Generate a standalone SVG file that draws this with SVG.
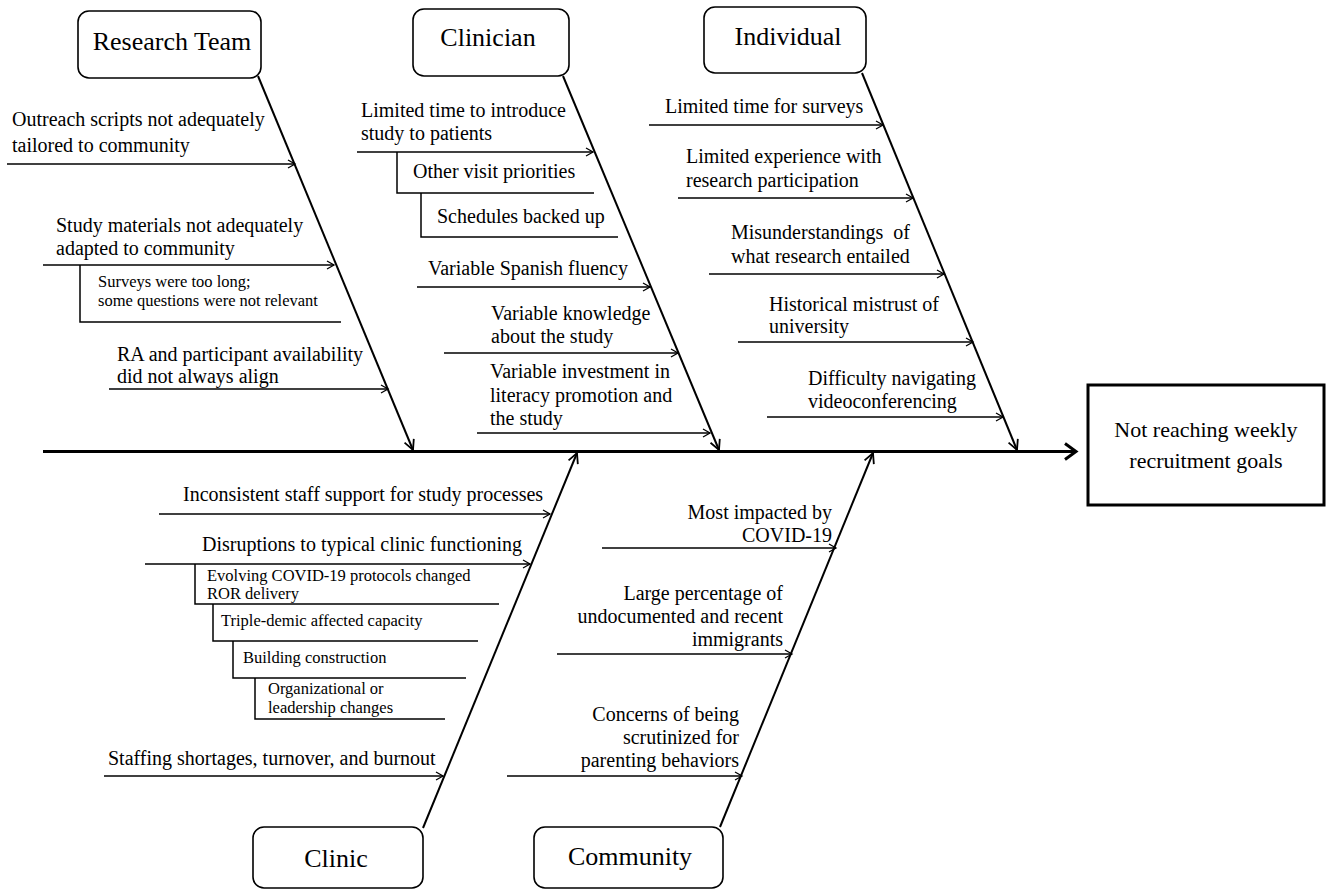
<svg xmlns="http://www.w3.org/2000/svg" width="1326" height="891" viewBox="0 0 1326 891">
<style>
  text { font-family: 'Liberation Serif', 'Times New Roman', Times, serif; fill: #000; }
  .lbl { font-size: 20px; }
  .sm { font-size: 16.5px; }
  .cat { font-size: 26px; text-anchor: middle; }
  .eff { font-size: 22px; text-anchor: middle; }
  .box { fill: #fff; stroke: #000; stroke-width: 1.6; }
  .sub { stroke: #000; stroke-width: 1.5; fill: none; marker-end: url(#sa); }
  .brk { stroke: #000; stroke-width: 1.5; fill: none; }
  .bone { stroke: #000; stroke-width: 2; fill: none; marker-end: url(#ba); }
  .end { text-anchor: end; }
</style>
<defs>
  <marker id="sa" markerUnits="userSpaceOnUse" markerWidth="12" markerHeight="12" refX="8" refY="5" orient="auto" overflow="visible">
    <path d="M1,1 L8,5 L1,9" fill="none" stroke="#000" stroke-width="1.3"/>
  </marker>
  <marker id="ba" markerUnits="userSpaceOnUse" markerWidth="16" markerHeight="16" refX="11" refY="6" orient="auto" overflow="visible">
    <path d="M1,1 L11,6 L1,11" fill="none" stroke="#000" stroke-width="1.8"/>
  </marker>
  <marker id="ma" markerUnits="userSpaceOnUse" markerWidth="20" markerHeight="20" refX="12" refY="9" orient="auto" overflow="visible">
    <path d="M1,1 L12,9 L1,17" fill="none" stroke="#000" stroke-width="3"/>
  </marker>
</defs>

<g id="connectors">
  <line x1="43" y1="451.5" x2="1076" y2="451.5" stroke="#000" stroke-width="3" marker-end="url(#ma)"/>
  <line class="bone" x1="258" y1="76" x2="413" y2="450"/>
  <line class="bone" x1="563" y1="76" x2="719" y2="450"/>
  <line class="bone" x1="862" y1="73" x2="1017" y2="450"/>
  <line class="bone" x1="423" y1="828" x2="577" y2="453"/>
  <line class="bone" x1="720" y1="827" x2="873" y2="453"/>

  <line class="sub" x1="7" y1="164" x2="295" y2="164"/>
  <line class="sub" x1="43" y1="265" x2="334" y2="265"/>
  <polyline class="brk" points="80,265 80,322 341,322"/>
  <line class="sub" x1="109" y1="389" x2="388" y2="389"/>

  <line class="sub" x1="357" y1="152" x2="593" y2="152"/>
  <polyline class="brk" points="397,152 397,193 594,193"/>
  <polyline class="brk" points="421,193 421,237 618,237"/>
  <line class="sub" x1="417" y1="287" x2="650" y2="287"/>
  <line class="sub" x1="444" y1="353" x2="678" y2="353"/>
  <line class="sub" x1="477" y1="433" x2="710" y2="433"/>

  <line class="sub" x1="649" y1="125" x2="883" y2="125"/>
  <line class="sub" x1="678" y1="198" x2="913" y2="198"/>
  <line class="sub" x1="709" y1="274" x2="944" y2="274"/>
  <line class="sub" x1="738" y1="342" x2="973" y2="342"/>
  <line class="sub" x1="767" y1="417" x2="1003" y2="417"/>

  <line class="sub" x1="159" y1="514" x2="550" y2="514"/>
  <line class="sub" x1="145" y1="564" x2="530" y2="564"/>
  <polyline class="brk" points="195,564 195,604 499,604"/>
  <polyline class="brk" points="213,604 213,641 478,641"/>
  <polyline class="brk" points="233,641 233,678 466,678"/>
  <polyline class="brk" points="255,678 255,719 445,719"/>
  <line class="sub" x1="104" y1="776" x2="443" y2="776"/>

  <line class="sub" x1="602" y1="548" x2="836" y2="548"/>
  <line class="sub" x1="557" y1="654" x2="792" y2="654"/>
  <line class="sub" x1="507" y1="776" x2="742" y2="776"/>
</g>

<g font-family="'Liberation Serif', serif">
<g id="node-research-team">
  <rect class="box" x="78" y="11" width="183" height="67" rx="11"/>
  <text class="cat" x="172" y="50">Research Team</text>
</g>
<g id="node-clinician">
  <rect class="box" x="413" y="9" width="156" height="67" rx="11"/>
  <text class="cat" x="488" y="46">Clinician</text>
</g>
<g id="node-individual">
  <rect class="box" x="704" y="7" width="162" height="66" rx="11"/>
  <text class="cat" x="788" y="45">Individual</text>
</g>
<g id="node-clinic">
  <rect class="box" x="253" y="827" width="170" height="61" rx="11"/>
  <text class="cat" x="336" y="867">Clinic</text>
</g>
<g id="node-community">
  <rect class="box" x="534" y="827" width="189" height="61" rx="11"/>
  <text class="cat" x="630" y="865">Community</text>
</g>
<g id="node-effect">
  <rect x="1088" y="385" width="236" height="120" fill="#fff" stroke="#000" stroke-width="3"/>
  <text class="eff" x="1206" y="437">Not reaching weekly</text>
  <text class="eff" x="1206" y="468">recruitment goals</text>
</g>

<g id="labels-research-team">
  <text class="lbl" x="12" y="126">Outreach scripts not adequately</text>
  <text class="lbl" x="12" y="152">tailored to community</text>
  <text class="lbl" x="56" y="232">Study materials not adequately</text>
  <text class="lbl" x="56" y="255">adapted to community</text>
  <text class="sm" x="98" y="287">Surveys were too long;</text>
  <text class="sm" x="98" y="306">some questions were not relevant</text>
  <text class="lbl" x="117" y="361">RA and participant availability</text>
  <text class="lbl" x="117" y="383">did not always align</text>
</g>

<g id="labels-clinician">
  <text class="lbl" x="361" y="117">Limited time to introduce</text>
  <text class="lbl" x="361" y="140">study to patients</text>
  <text class="lbl" x="413" y="178">Other visit priorities</text>
  <text class="lbl" x="437" y="223">Schedules backed up</text>
  <text class="lbl" x="428" y="275">Variable Spanish fluency</text>
  <text class="lbl" x="491" y="320">Variable knowledge</text>
  <text class="lbl" x="491" y="343">about the study</text>
  <text class="lbl" x="490" y="378">Variable investment in</text>
  <text class="lbl" x="490" y="402">literacy promotion and</text>
  <text class="lbl" x="490" y="425">the study</text>
</g>

<g id="labels-individual">
  <text class="lbl" x="665" y="113">Limited time for surveys</text>
  <text class="lbl" x="686" y="163">Limited experience with</text>
  <text class="lbl" x="686" y="187">research participation</text>
  <text class="lbl" x="731" y="239" xml:space="preserve">Misunderstandings  of</text>
  <text class="lbl" x="731" y="263">what research entailed</text>
  <text class="lbl" x="769" y="311">Historical mistrust of</text>
  <text class="lbl" x="769" y="333">university</text>
  <text class="lbl" x="808" y="385">Difficulty navigating</text>
  <text class="lbl" x="808" y="408">videoconferencing</text>
</g>

<g id="labels-clinic">
  <text class="lbl" x="183" y="501">Inconsistent staff support for study processes</text>
  <text class="lbl" x="202" y="551">Disruptions to typical clinic functioning</text>
  <text class="sm" x="207" y="581">Evolving COVID-19 protocols changed</text>
  <text class="sm" x="207" y="599">ROR delivery</text>
  <text class="sm" x="221" y="626">Triple-demic affected capacity</text>
  <text class="sm" x="243" y="663">Building construction</text>
  <text class="sm" x="268" y="694">Organizational or</text>
  <text class="sm" x="268" y="713">leadership changes</text>
  <text class="lbl" x="108" y="765">Staffing shortages, turnover, and burnout</text>
</g>

<g id="labels-community">
  <text class="lbl end" x="832" y="519">Most impacted by</text>
  <text class="lbl end" x="832" y="542">COVID-19</text>
  <text class="lbl end" x="783" y="600">Large percentage of</text>
  <text class="lbl end" x="783" y="623">undocumented and recent</text>
  <text class="lbl end" x="783" y="646">immigrants</text>
  <text class="lbl end" x="739" y="721">Concerns of being</text>
  <text class="lbl end" x="739" y="744">scrutinized for</text>
  <text class="lbl end" x="739" y="767">parenting behaviors</text>
</g>
</g>
</svg>
